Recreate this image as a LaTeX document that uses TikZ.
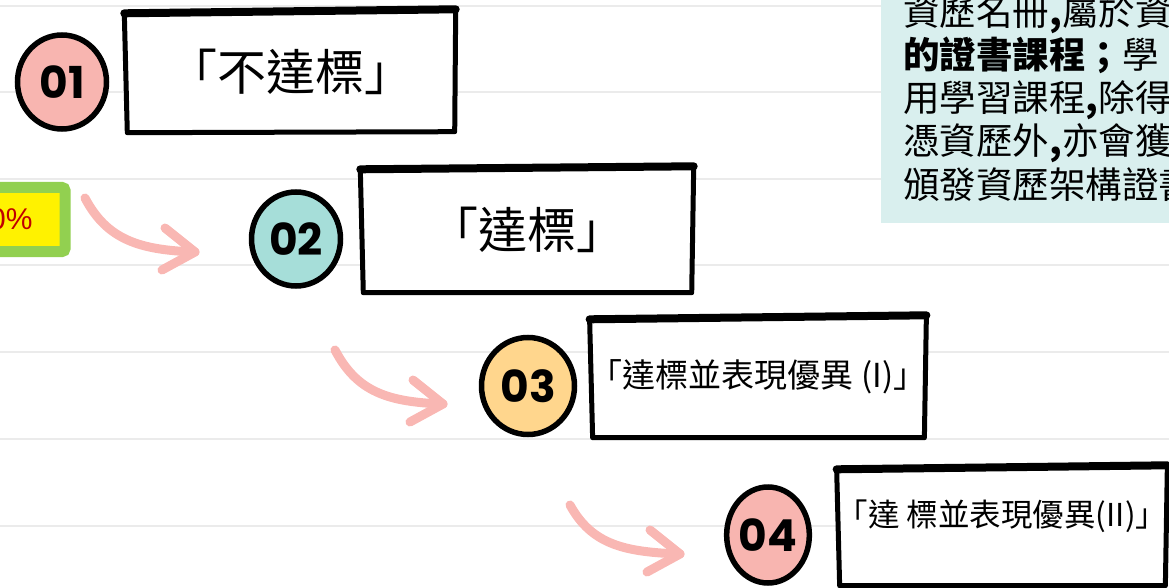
\documentclass[tikz,border=0pt]{standalone}
\usepackage{fontspec}
\usepackage{xcolor}
\usetikzlibrary{shapes.geometric,positioning}
\newfontfamily\cjk{Noto Sans CJK TC}
\newfontfamily\numfont{Poppins}
\newfontfamily\pctfont{Liberation Sans}
\definecolor{rulegray}{HTML}{EBEBEB}
\definecolor{notebg}{HTML}{D9EFEE}
\definecolor{pinkarrow}{HTML}{F9B7B3}
\definecolor{pinkfill}{HTML}{F8B5B0}
\definecolor{tealfill}{HTML}{A6DED9}
\definecolor{orangefill}{HTML}{FFD68D}
\definecolor{tagedge}{HTML}{92D050}
\definecolor{tagtext}{HTML}{C00000}
\tikzset{
	stepnum/.style={ellipse, draw=black, line width=5.5pt, inner sep=0pt,
		minimum width=89pt, minimum height=94pt,
		font=\numfont\bfseries\fontsize{44}{44}\selectfont},
	stagebox/.style={rectangle, fill=white, inner sep=0pt,
		minimum width=333pt, minimum height=121pt,
		font=\cjk\fontsize{49}{54}\selectfont},
	sketch/.style={line width=5pt, line join=round, line cap=round},
	flow/.style={pinkarrow, line width=9pt, line cap=round, line join=round},
	noteline/.style={anchor=base west, inner sep=0pt,
		font=\cjk\fontsize{36.5}{43}\selectfont}
}
\begin{document}
\begin{tikzpicture}[x=1pt,y=-1pt]
	\useasboundingbox (0,0) rectangle (1169,588);
	
	% ruled paper
	\foreach \y in {6,92,179,265,352,439,526}
		\draw[rulegray, line width=2.5pt] (0,\y) -- (1169,\y);
	
	% note on the right
	\fill[notebg] (881,-5) rectangle (1180,223);
	\node[noteline] (note1) at (903,26) {資歷名冊{\bfseries ,}屬於資};
	\node[noteline] (note2) at (903,69) {{\bfseries 的證書課程；}學};
	\node[noteline] (note3) at (903,112) {用學習課程{\bfseries ,}除得};
	\node[noteline] (note4) at (903,155) {憑資歷外{\bfseries ,}亦會獲};
	\node[noteline] (note5) at (903,198) {頒發資歷架構證書};
	
	% percentage tag
	\node[draw=tagedge, line width=11pt, fill=yellow, rounded corners=3pt,
		anchor=east, text width=60pt, align=right, inner xsep=32.5pt,
		minimum height=64pt, text=tagtext,
		font=\pctfont\fontsize{30}{30}\selectfont] (tag) at (70.5,219.5) {0\%};
	
	% arrows
	\coordinate (a1s) at (85,198);
	\coordinate (a1e) at (195,252);
	\coordinate (a2s) at (335,350);
	\coordinate (a2e) at (443,404);
	\coordinate (a3s) at (570,505);
	\coordinate (a3e) at (680,554);
	\draw[flow] (a1s) .. controls +(22,42) and +(-55,-2) .. (a1e);
	\draw[flow] ([shift={(-30,-24)}]a1e) -- (a1e) -- ([shift={(-33,18)}]a1e);
	\draw[flow] (a2s) .. controls +(22,42) and +(-55,-2) .. (a2e);
	\draw[flow] ([shift={(-30,-24)}]a2e) -- (a2e) -- ([shift={(-33,18)}]a2e);
	\draw[flow] (a3s) .. controls +(22,40) and +(-55,-2) .. (a3e);
	\draw[flow] ([shift={(-30,-24)}]a3e) -- (a3e) -- ([shift={(-33,18)}]a3e);
	
	% stage boxes
	\node[stagebox] (box1) at (291,72) {「不達標」};
	\node[stagebox, minimum height=125pt] (box2) at (527,230) {「達標」};
	\node[stagebox, font=\cjk\fontsize{33}{38}\selectfont] (box3) at (758,377)
		{「達標並表現優異 (I)」};
	\node[stagebox, minimum width=328pt, minimum height=119pt,
		text height=27pt, text depth=27pt,
		font=\cjk\fontsize{31.5}{36}\selectfont] (box4) at (1002,526)
		{「達 標並表現優異(II)」};
	
	\draw[sketch] ([shift={(0,2)}]box1.north west) -- ([shift={(-2,-2)}]box1.north east)
		-- ([shift={(-3,-1)}]box1.south east) -- ([shift={(3,0)}]box1.south west) -- cycle;
	\draw[sketch, line width=8pt] ([shift={(0,2)}]box1.north west) -- ([shift={(-2,-2)}]box1.north east);
	\draw[sketch] ([shift={(0,2)}]box2.north west) -- ([shift={(0,-1)}]box2.north east)
		-- ([shift={(-2,0)}]box2.south east) -- ([shift={(3,0)}]box2.south west) -- cycle;
	\draw[sketch, line width=8pt] ([shift={(0,2)}]box2.north west) -- ([shift={(0,-1)}]box2.north east);
	\draw[sketch] ([shift={(0,3)}]box3.north west) -- ([shift={(0,-1)}]box3.north east)
		-- ([shift={(-2,0)}]box3.south east) -- ([shift={(3,0)}]box3.south west) -- cycle;
	\draw[sketch, line width=8pt] ([shift={(0,3)}]box3.north west) -- ([shift={(0,-1)}]box3.north east);
	\draw[sketch] ([shift={(0,3)}]box4.north west) -- ([shift={(0,-1)}]box4.north east)
		-- ([shift={(-2,0)}]box4.south east) -- ([shift={(3,0)}]box4.south west) -- cycle;
	\draw[sketch, line width=8pt] ([shift={(0,3)}]box4.north west) -- ([shift={(0,-1)}]box4.north east);
	
	% step numbers
	\node[stepnum, fill=pinkfill] (n1) at (62,82) {01};
	\node[stepnum, fill=tealfill] (n2) at (296,239) {02};
	\node[stepnum, fill=orangefill, minimum width=93pt, minimum height=97pt] (n3) at (528,386) {03};
	\node[stepnum, fill=pinkfill, minimum width=80pt, minimum height=96pt] (n4) at (768,535) {04};
\end{tikzpicture}
\end{document}
